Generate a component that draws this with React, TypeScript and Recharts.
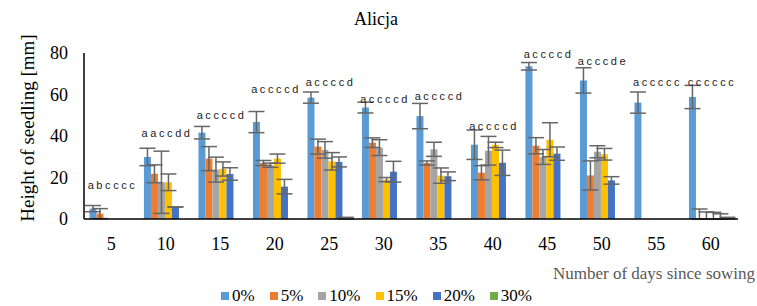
import React from "react";
import {
  ComposedChart,
  Bar,
  Line,
  XAxis,
  YAxis,
  ErrorBar,
  LabelList,
} from "recharts";

const days = [5, 10, 15, 20, 25, 30, 35, 40, 45, 50, 55, 60];
const seriesNames = ["0%", "5%", "10%", "15%", "20%", "30%"];
const colors = ["#5B9BD5", "#ED7D31", "#A5A5A5", "#FFC000", "#4472C4", "#70AD47"];

// mean height per concentration (0.01 = practically nothing, keeps the error bar drawn)
const h0 = [5.0, 29.9, 41.6, 46.7, 58.5, 53.7, 49.6, 35.8, 73.6, 66.8, 56.1, 58.8];
const h5 = [2.6, 21.8, 29.1, 27.0, 34.9, 36.8, 27.0, 22.3, 35.3, 21.0, 0, 0.01];
const h10 = [0, 17.7, 23.8, 25.9, 33.3, 34.4, 33.6, 32.9, 29.9, 32.4, 0, 0.01];
const h15 = [0, 17.7, 24.1, 29.1, 27.8, 19.0, 20.9, 35.7, 38.2, 31.2, 0, 0.01];
const h20 = [0, 5.8, 21.7, 15.6, 27.5, 22.8, 20.6, 27.1, 31.5, 18.6, 0, 0.01];
const h30 = [0, 0, 0, 0, 0.01, 0, 0, 0, 0, 0, 0, 0.01];

// standard deviations
const sd0 = [1.5, 4.2, 3.0, 5.1, 2.7, 2.6, 6.1, 7.1, 1.8, 6.1, 5.1, 5.6];
const sd5 = [2.4, 4.3, 5.8, 1.2, 3.6, 2.3, 1.0, 3.4, 3.9, 7.0, 0, 4.8];
const sd10 = [0, 15.0, 6.0, 1.0, 4.0, 3.8, 3.4, 6.9, 3.6, 2.9, 0, 3.4];
const sd15 = [0, 4.0, 3.4, 2.2, 4.2, 1.0, 3.7, 1.3, 8.2, 2.8, 0, 3.2];
const sd20 = [0, 0, 3.0, 3.5, 2.4, 5.0, 2.1, 6.1, 3.2, 1.8, 0, 2.5];
const sd30 = [0, 0, 0, 0, 0.8, 0, 0, 0, 0, 0, 0, 0.8];

// significance letters and the height they are written at
const letters = ["abcccc", "aaccdd", "accccd", "accccd", "accccd", "accccd", "accccd", "accccd", "accccd", "acccde", "accccc", "cccccc"];
const letterY = [16.5, 41.5, 50, 62.7, 66, 58, 59.5, 45, 79.6, 76, 66, 66];

const yTicks = [0, 20, 40, 60, 80];

const heights = [h0, h5, h10, h15, h20, h30];
const sds = [sd0, sd5, sd10, sd15, sd20, sd30];

const data = days.map((d, i) => {
  const row: any = { day: d, letters: letters[i], letterY: letterY[i] };
  heights.forEach((h, k) => {
    row["s" + k] = h[i];
    row["e" + k] = [Math.min(sds[k][i], h[i]), sds[k][i]];
  });
  return row;
});

const serif = "Times New Roman, Liberation Serif, serif";

const App = () => {
  return (
    <div
      style={{
        position: "absolute",
        left: 0,
        top: 0,
        width: 757,
        height: 306,
        background: "#fff",
      }}
    >
      <ComposedChart
        width={757}
        height={306}
        data={data}
        margin={{ top: 53, right: 19, left: 0, bottom: 0 }}
        barCategoryGap="10%"
        barGap={0}
      >
        <XAxis
          dataKey="day"
          height={87}
          tickLine={false}
          tickMargin={12}
          axisLine={{ stroke: "#000", strokeWidth: 1.5 }}
          tick={{ fontFamily: serif, fontSize: 18, fill: "#000" }}
          interval={0}
        />
        <YAxis
          width={84}
          domain={[0, 80]}
          ticks={yTicks}
          tickLine={false}
          tickMargin={10}
          axisLine={{ stroke: "#000", strokeWidth: 1.5 }}
          tick={{ fontFamily: serif, fontSize: 18, fill: "#000" }}
        />
        {seriesNames.map((name, k) => (
          <Bar
            key={name}
            dataKey={"s" + k}
            name={name}
            fill={colors[k]}
            isAnimationActive={false}
          >
            <ErrorBar
              dataKey={"e" + k}
              width={8}
              strokeWidth={1.5}
              stroke="#666"
              direction="y"
            />
          </Bar>
        ))}
        <Line
          dataKey="letterY"
          stroke="none"
          dot={false}
          activeDot={false}
          legendType="none"
          isAnimationActive={false}
        >
          <LabelList
            dataKey="letters"
            content={(p: any) => (
              <text
                x={p.x + 1.3}
                y={p.y}
                textAnchor="middle"
                dominantBaseline="central"
                fontFamily="Liberation Sans, Arial, sans-serif"
                fontSize={11}
                letterSpacing={2.6}
                fill="#222"
              >
                {p.value}
              </text>
            )}
          />
        </Line>
      </ComposedChart>
      <svg
        width={757}
        height={306}
        style={{ position: "absolute", left: 0, top: 0, pointerEvents: "none" }}
      >
        <text x={376} y={25} textAnchor="middle" fontFamily={serif} fontSize={18} fill="#000">
          Alicja
        </text>
        <text
          x={0}
          y={0}
          transform="translate(34,128) rotate(-90)"
          textAnchor="middle"
          fontFamily={serif}
          fontSize={19}
          fill="#000"
        >
          Height of seedling [mm]
        </text>
        <text x={755} y={279} textAnchor="end" fontFamily={serif} fontSize={17} fill="#595959">
          Number of days since sowing
        </text>
      </svg>
      <div
        style={{
          position: "absolute",
          left: 221,
          top: 286,
          display: "flex",
          alignItems: "center",
          fontFamily: serif,
          fontSize: 17,
          color: "#000",
        }}
      >
        {seriesNames.map((name, k) => (
          <div key={name} style={{ display: "flex", alignItems: "center", marginRight: 15 }}>
            <div style={{ width: 8, height: 8, background: colors[k], marginRight: 3 }} />
            <span>{name}</span>
          </div>
        ))}
      </div>
    </div>
  );
};

export default App;
